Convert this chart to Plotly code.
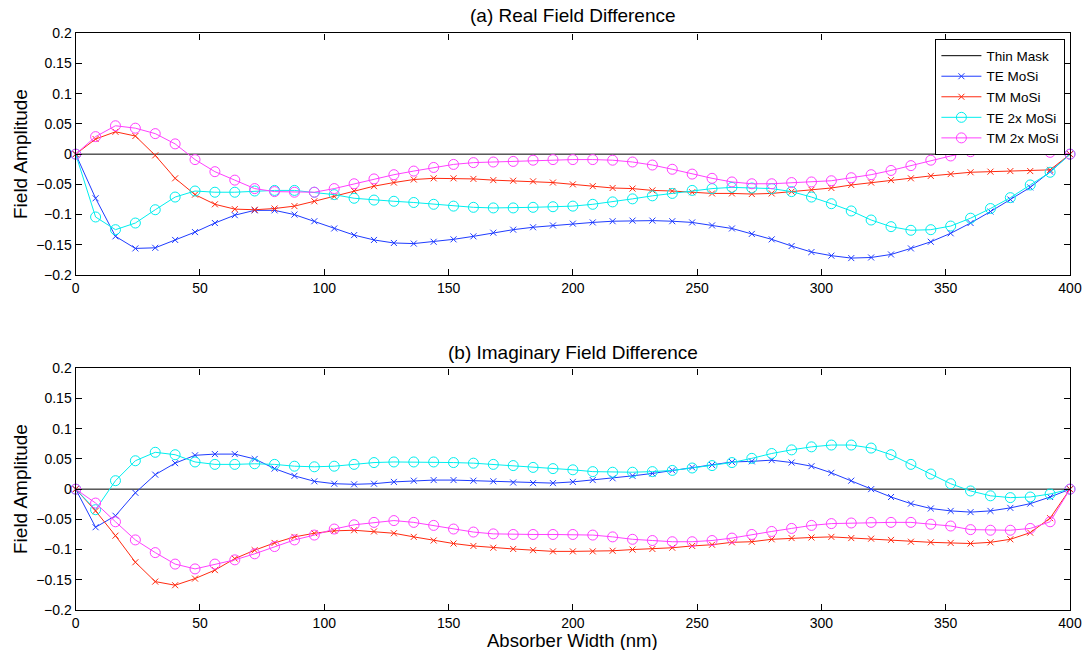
import plotly.graph_objects as go

x_nm = list(range(0, 401, 8))

thin_mask = [0.0] * len(x_nm)

# (a) Real field difference
te_real = [0, -0.073, -0.136, -0.156, -0.155, -0.142, -0.129, -0.114, -0.101, -0.093, -0.093, -0.100, -0.111,
           -0.123, -0.134, -0.142, -0.147, -0.148, -0.145, -0.141, -0.136, -0.130, -0.125, -0.121, -0.118,
           -0.115, -0.113, -0.111, -0.110, -0.110, -0.111, -0.113, -0.118, -0.123, -0.132, -0.141, -0.152,
           -0.162, -0.168, -0.172, -0.171, -0.166, -0.156, -0.145, -0.131, -0.114, -0.095, -0.075, -0.055,
           -0.029, 0]
tm_real = [0, 0.025, 0.037, 0.030, -0.002, -0.040, -0.067, -0.083, -0.091, -0.092, -0.090, -0.086, -0.078,
           -0.070, -0.061, -0.053, -0.047, -0.042, -0.040, -0.040, -0.041, -0.043, -0.044, -0.045, -0.047,
           -0.050, -0.053, -0.056, -0.057, -0.060, -0.061, -0.063, -0.065, -0.065, -0.066, -0.065, -0.062,
           -0.059, -0.056, -0.051, -0.047, -0.043, -0.040, -0.036, -0.033, -0.030, -0.029, -0.028, -0.028,
           -0.026, 0]
te2_real = [0, -0.104, -0.125, -0.114, -0.092, -0.071, -0.061, -0.063, -0.063, -0.061, -0.060, -0.060, -0.063,
            -0.067, -0.073, -0.076, -0.078, -0.080, -0.083, -0.086, -0.088, -0.089, -0.089, -0.088, -0.087,
            -0.086, -0.083, -0.079, -0.074, -0.069, -0.065, -0.060, -0.057, -0.055, -0.056, -0.057, -0.062,
            -0.071, -0.082, -0.094, -0.109, -0.120, -0.126, -0.125, -0.119, -0.106, -0.090, -0.072, -0.051,
            -0.030, 0]
tm2_real = [0, 0.029, 0.047, 0.043, 0.034, 0.017, -0.009, -0.029, -0.043, -0.057, -0.062, -0.063, -0.063,
            -0.057, -0.049, -0.041, -0.034, -0.028, -0.022, -0.017, -0.014, -0.013, -0.012, -0.010, -0.009,
            -0.009, -0.009, -0.010, -0.013, -0.018, -0.025, -0.033, -0.040, -0.046, -0.049, -0.049, -0.047,
            -0.046, -0.044, -0.039, -0.034, -0.027, -0.019, -0.010, -0.003, 0.004, 0.008, 0.010, 0.009,
            0.003, 0]

# (b) Imaginary field difference
te_imag = [0, -0.063, -0.044, -0.006, 0.024, 0.043, 0.056, 0.058, 0.058, 0.050, 0.034, 0.022, 0.013,
           0.009, 0.008, 0.009, 0.012, 0.014, 0.015, 0.015, 0.014, 0.013, 0.011, 0.010, 0.010,
           0.012, 0.015, 0.018, 0.022, 0.026, 0.031, 0.036, 0.040, 0.045, 0.046, 0.048, 0.044,
           0.038, 0.027, 0.014, 0.000, -0.013, -0.024, -0.032, -0.036, -0.038, -0.036, -0.031, -0.024,
           -0.013, 0]
tm_imag = [0, -0.036, -0.077, -0.121, -0.153, -0.159, -0.148, -0.134, -0.115, -0.101, -0.089, -0.079, -0.073,
           -0.069, -0.068, -0.070, -0.073, -0.079, -0.085, -0.090, -0.094, -0.097, -0.099, -0.101, -0.103,
           -0.103, -0.103, -0.102, -0.100, -0.099, -0.097, -0.094, -0.092, -0.088, -0.087, -0.083, -0.081,
           -0.080, -0.079, -0.081, -0.082, -0.084, -0.087, -0.088, -0.089, -0.090, -0.088, -0.083, -0.072,
           -0.048, 0]
te2_imag = [0, -0.034, 0.014, 0.047, 0.061, 0.057, 0.045, 0.041, 0.041, 0.042, 0.041, 0.038, 0.037,
            0.038, 0.041, 0.044, 0.045, 0.045, 0.045, 0.044, 0.043, 0.041, 0.039, 0.036, 0.034,
            0.032, 0.029, 0.028, 0.028, 0.029, 0.031, 0.035, 0.039, 0.044, 0.051, 0.059, 0.065,
            0.070, 0.073, 0.073, 0.068, 0.057, 0.041, 0.025, 0.009, -0.003, -0.011, -0.014, -0.013,
            -0.008, 0]
tm2_imag = [0, -0.023, -0.054, -0.084, -0.105, -0.124, -0.132, -0.124, -0.117, -0.107, -0.095, -0.084, -0.076,
            -0.066, -0.059, -0.055, -0.052, -0.055, -0.060, -0.066, -0.071, -0.074, -0.075, -0.075, -0.075,
            -0.075, -0.076, -0.079, -0.083, -0.085, -0.087, -0.087, -0.085, -0.081, -0.075, -0.070, -0.065,
            -0.060, -0.057, -0.056, -0.055, -0.055, -0.055, -0.058, -0.061, -0.067, -0.068, -0.068, -0.065,
            -0.054, 0]

y_ticks = [-0.2, -0.15, -0.1, -0.05, 0, 0.05, 0.1, 0.15, 0.2]
y_labels = ["\u22120.2", "\u22120.15", "\u22120.1", "\u22120.05", "0", "0.05", "0.1", "0.15", "0.2"]
x_ticks = [0, 50, 100, 150, 200, 250, 300, 350, 400]

BLUE = "#1f3cff"
RED = "#ff2a10"
CYAN = "#00eeee"
MAGENTA = "#ff40ff"
FONT = "Liberation Sans, Arial, Helvetica, sans-serif"

series = [
    ("Thin Mask", thin_mask, thin_mask, "black", None, None),
    ("TE MoSi", te_real, te_imag, BLUE, "x-thin-open", 6),
    ("TM MoSi", tm_real, tm_imag, RED, "x-thin-open", 6),
    ("TE 2x MoSi", te2_real, te2_imag, CYAN, "circle-open", 10),
    ("TM 2x MoSi", tm2_real, tm2_imag, MAGENTA, "circle-open", 10),
]

fig = go.Figure()
for axis_idx, (xa, ya) in enumerate([("x", "y"), ("x2", "y2")]):
    for name, yr, yi, color, sym, size in series:
        yv = yr if axis_idx == 0 else yi
        if sym is None:
            mode = "lines"
            marker = None
        else:
            mode = "lines+markers"
            marker = dict(symbol=sym, size=size, color=color,
                          line=dict(color=color, width=1))
        fig.add_trace(go.Scatter(
            x=x_nm, y=yv, name=name, mode=mode,
            line=dict(color=color, width=1),
            marker=marker,
            xaxis=xa, yaxis=ya,
            showlegend=(axis_idx == 0),
            legendgroup=name,
            cliponaxis=False,
        ))

W, H = 1086, 650
x0, x1 = 75.7 / W, 1070 / W
dom_a = [(H - 275) / H, (H - 33.3) / H]
dom_b = [(H - 610) / H, (H - 368.3) / H]

axis_common = dict(
    showline=True, linecolor="black", linewidth=1.4, mirror="ticks",
    ticks="inside", ticklen=6, tickcolor="black", tickwidth=1,
    showgrid=False, zeroline=False, automargin=False,
    tickfont=dict(family=FONT, size=14, color="black"),
)

fig.update_layout(
    template="none",
    width=W, height=H,
    margin=dict(l=0, r=0, t=0, b=0, pad=0),
    plot_bgcolor="white", paper_bgcolor="white",
    font=dict(family=FONT, color="black"),
    xaxis=dict(domain=[x0, x1], range=[0, 400], tickvals=x_ticks, anchor="y", **axis_common),
    yaxis=dict(domain=dom_a, range=[-0.2, 0.2], tickvals=y_ticks, ticktext=y_labels,
               anchor="x", **axis_common),
    xaxis2=dict(domain=[x0, x1], range=[0, 400], tickvals=x_ticks, anchor="y2", **axis_common),
    yaxis2=dict(domain=dom_b, range=[-0.2, 0.2], tickvals=y_ticks, ticktext=y_labels,
                anchor="x2", **axis_common),
    legend=dict(
        x=1065 / W, y=(H - 39) / H, xanchor="right", yanchor="top",
        bgcolor="white", bordercolor="black", borderwidth=1.4,
        font=dict(family=FONT, size=13.5, color="black"),
        tracegroupgap=0, itemwidth=40,
    ),
    showlegend=True,
)

cx = (75.7 + 1070) / 2 / W
annotations = [
    dict(text="(a) Real Field Difference", x=cx, y=(H - 15) / H, xref="paper", yref="paper",
         showarrow=False, font=dict(family=FONT, size=19, color="black"), xanchor="center", yanchor="middle"),
    dict(text="(b) Imaginary Field Difference", x=cx, y=(H - 352) / H, xref="paper", yref="paper",
         showarrow=False, font=dict(family=FONT, size=19, color="black"), xanchor="center", yanchor="middle"),
    dict(text="Absorber Width (nm)", x=cx, y=(H - 640) / H, xref="paper", yref="paper",
         showarrow=False, font=dict(family=FONT, size=18.5, color="black"), xanchor="center", yanchor="middle"),
    dict(text="Field Amplitude", x=20 / W, y=(H - 154) / H, xref="paper", yref="paper", textangle=-90,
         showarrow=False, font=dict(family=FONT, size=19, color="black"), xanchor="center", yanchor="middle"),
    dict(text="Field Amplitude", x=20 / W, y=(H - 489) / H, xref="paper", yref="paper", textangle=-90,
         showarrow=False, font=dict(family=FONT, size=19, color="black"), xanchor="center", yanchor="middle"),
]
fig.update_layout(annotations=annotations)

fig.write_html("out.html")
